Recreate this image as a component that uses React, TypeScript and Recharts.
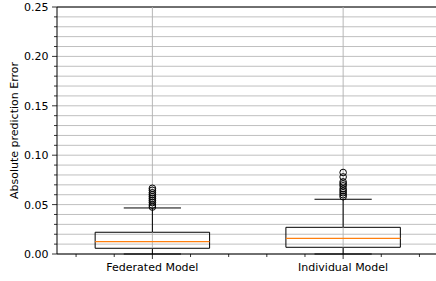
import React from "react";
import {
  ComposedChart,
  CartesianGrid,
  XAxis,
  YAxis,
  ReferenceArea,
  ReferenceLine,
  Scatter,
} from "recharts";

const categories = ["Federated Model", "Individual Model"];
const positions = [1, 2];
const whiskerLow = [0, 0];
const q1 = [0.0058, 0.0068];
const median = [0.0125, 0.0159];
const q3 = [0.022, 0.027];
const whiskerHigh = [0.0466, 0.0554];
const fliersFederated = [0.0475, 0.0495, 0.052, 0.054, 0.056, 0.058, 0.06, 0.062, 0.0645, 0.0665];
const fliersIndividual = [0.058, 0.06, 0.062, 0.064, 0.066, 0.069, 0.071, 0.073, 0.078, 0.0825];

const yTicks = Array.from({ length: 26 }, (_, i) => i / 100);
const xTicks = Array.from({ length: 10 }, (_, i) => Math.round((0.6 + i * 0.2) * 10) / 10);

const FONT = "'DejaVu Sans', sans-serif";
const BOX_HALF = 0.3;
const CAP_HALF = 0.15;

const YTick = (props: any) => {
  const { x, y, payload } = props;
  const v = payload.value;
  const major = Math.round(v * 100) % 5 === 0;
  const len = major ? 5 : 3;
  return (
    <g>
      <line x1={x - len} x2={x} y1={y} y2={y} stroke="#000" strokeWidth={0.8} />
      {major && (
        <text x={x - len - 3.5} y={y} dy="0.36em" textAnchor="end" fontSize={11} fontFamily={FONT} fill="#000">
          {v.toFixed(2)}
        </text>
      )}
    </g>
  );
};

const XTick = (props: any) => {
  const { x, y, payload } = props;
  const idx = positions.indexOf(payload.value);
  const major = idx >= 0;
  const len = major ? 5 : 3;
  return (
    <g>
      <line x1={x} x2={x} y1={y} y2={y + len} stroke="#000" strokeWidth={0.8} />
      {major && (
        <text x={x} y={y + len + 3.5} dy="0.8em" textAnchor="middle" fontSize={11} fontFamily={FONT} fill="#000">
          {categories[idx]}
        </text>
      )}
    </g>
  );
};

const Flier = (props: any) => {
  const { cx, cy } = props;
  return <circle cx={cx} cy={cy} r={3.3} fill="none" stroke="#000" strokeWidth={1} />;
};

export default function App() {
  const fliers = [fliersFederated, fliersIndividual];
  return (
    <div style={{ position: "absolute", left: 0, top: 0, width: 436, height: 281, overflow: "hidden", background: "#fff" }}>
      <ComposedChart width={440} height={281} margin={{ top: 7, right: 1.5, bottom: 0, left: 0 }}>
        <CartesianGrid vertical={false} stroke="#b8b8b8" strokeWidth={0.9} />
        <XAxis
          type="number"
          dataKey="x"
          domain={[0.5, 2.5]}
          ticks={xTicks}
          interval={0}
          height={27}
          tickLine={false}
          tickSize={0}
          tickMargin={0}
          tick={<XTick />}
          axisLine={{ stroke: "#000", strokeWidth: 1 }}
        />
        <YAxis
          type="number"
          dataKey="y"
          domain={[0, 0.25]}
          ticks={yTicks}
          interval={0}
          width={57}
          tickLine={false}
          tickSize={0}
          tickMargin={0}
          tick={<YTick />}
          axisLine={{ stroke: "#000", strokeWidth: 1 }}
          label={{
            value: "Absolute prediction Error",
            angle: -90,
            position: "insideLeft",
            offset: 14,
            textAnchor: "middle",
            style: { fontSize: 11, fontFamily: FONT, fill: "#000", textAnchor: "middle" },
          }}
        />
        <ReferenceLine y={0.25} stroke="#000" strokeWidth={1} ifOverflow="visible" />
        {positions.map((p) => (
          <ReferenceLine key={"g" + p} x={p} stroke="#b0b0b0" strokeWidth={0.9} />
        ))}
        {positions.map((p, i) => (
          <React.Fragment key={"b" + p}>
            <ReferenceLine segment={[{ x: p, y: whiskerLow[i] }, { x: p, y: q1[i] }]} stroke="#000" strokeWidth={1} ifOverflow="visible" />
            <ReferenceLine segment={[{ x: p, y: q3[i] }, { x: p, y: whiskerHigh[i] }]} stroke="#000" strokeWidth={1} ifOverflow="visible" />
            <ReferenceLine segment={[{ x: p - CAP_HALF, y: whiskerLow[i] }, { x: p + CAP_HALF, y: whiskerLow[i] }]} stroke="#000" strokeWidth={1} ifOverflow="visible" />
            <ReferenceLine segment={[{ x: p - CAP_HALF, y: whiskerHigh[i] }, { x: p + CAP_HALF, y: whiskerHigh[i] }]} stroke="#000" strokeWidth={1} ifOverflow="visible" />
            <ReferenceArea x1={p - BOX_HALF} x2={p + BOX_HALF} y1={q1[i]} y2={q3[i]} fill="none" fillOpacity={0} stroke="#000" strokeWidth={1} strokeOpacity={1} ifOverflow="visible" />
            <ReferenceLine segment={[{ x: p - BOX_HALF, y: median[i] }, { x: p + BOX_HALF, y: median[i] }]} stroke="#ff7f0e" strokeWidth={1.2} ifOverflow="visible" />
          </React.Fragment>
        ))}
        {positions.map((p, i) => (
          <Scatter
            key={"f" + p}
            data={fliers[i].map((v) => ({ x: p, y: v }))}
            shape={<Flier />}
            isAnimationActive={false}
          />
        ))}
      </ComposedChart>
    </div>
  );
}
